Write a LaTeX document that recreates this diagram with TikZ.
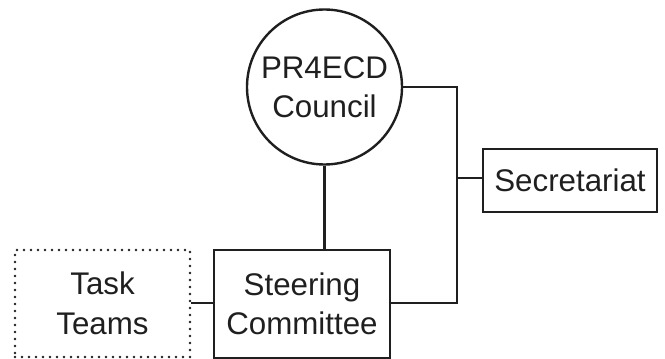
\documentclass[tikz,border=0pt]{standalone}
\usepackage{fontspec}
\setmainfont{Liberation Sans}
\begin{document}
\begin{tikzpicture}[x=1pt,y=1pt,
  txt/.style={font=\fontsize{31.3}{39.5}\selectfont, align=center, text=black!88},
  boxed/.style={txt, draw=black!88, line width=2.4pt, inner sep=0pt, rectangle},
  dottedbox/.style={txt, draw=black!88, line width=2.6pt, line cap=round, dash pattern=on 0pt off 7pt, inner sep=0pt, rectangle},
  conn/.style={draw=black!88, line width=2.4pt}]
\useasboundingbox (0,0) rectangle (665,359);
\node[boxed, circle, minimum size=155pt] (council) at (324.5,272) {PR4ECD\\Council};
\node[boxed, minimum width=176pt, minimum height=108pt] (steer) at (302,55) {Steering\\Committee};
\node[dottedbox, minimum width=175pt, minimum height=107pt] (task) at (102.5,55.5) {Task\\Teams};
\node[boxed, minimum width=174pt, minimum height=63pt] (sec) at (570,178.5) {Secretariat};
\coordinate (j1) at (457,272);
\coordinate (j2) at (457,56);
\coordinate (j3) at (457,181);
\draw[conn] (council.east) -- (j1) -- (j2) -- (steer.east |- j2);
\draw[conn] (j3) -- (sec.west |- j3);
\draw[conn] (council.south) -- (steer.north -| council.south);
\draw[conn] (task.east |- 0,56) -- (steer.west |- 0,56);
\end{tikzpicture}
\end{document}
